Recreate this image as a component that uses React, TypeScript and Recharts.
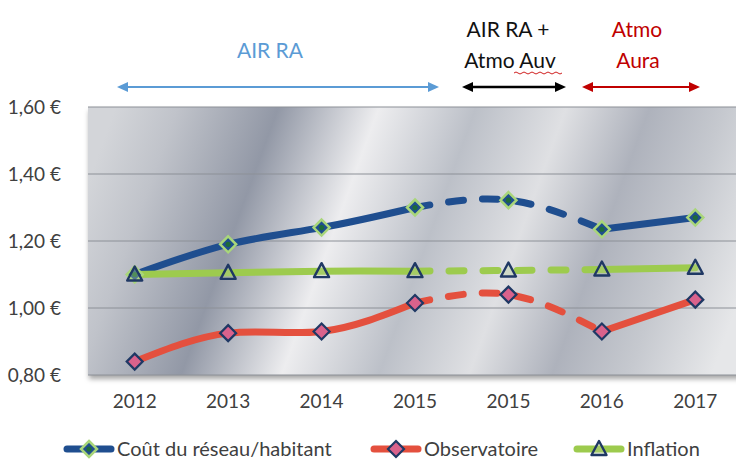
import { CartesianGrid, Line, LineChart, XAxis, YAxis } from 'recharts'

const years = ['2012', '2013', '2014', '2015', '2015', '2016', '2017']
const cout = [1.1, 1.19, 1.24, 1.3, 1.322, 1.235, 1.27]
const observatoire = [0.84, 0.925, 0.93, 1.015, 1.04, 0.93, 1.025]
const inflation = [1.1, 1.105, 1.11, 1.11, 1.112, 1.115, 1.12]
const yTicks = [0.8, 1.0, 1.2, 1.4, 1.6]
// the points joined by a dashed line (the merger period)
const dashStart = 3
const dashEnd = 5

const BLUE = '#1f4e8f'
const RED = '#e4503e'
const GREEN = '#9dcb4e'
const NAVY = '#1f3864'
const FONT = 'Lato, "Open Sans", sans-serif'

const solid = (v: number[], i: number) => (i > dashStart && i < dashEnd ? null : v[i])
const dashed = (v: number[], i: number) => (i >= dashStart && i <= dashEnd ? v[i] : null)

const rows = years.map((year, i) => ({
  year,
  cout: cout[i],
  coutSolid: solid(cout, i),
  coutDash: dashed(cout, i),
  obs: observatoire[i],
  obsSolid: solid(observatoire, i),
  obsDash: dashed(observatoire, i),
  infl: inflation[i],
  inflSolid: solid(inflation, i),
  inflDash: dashed(inflation, i),
}))

const euro = (v: number) => `${v.toFixed(2).replace('.', ',')} €`

function CoutMark({ cx, cy }: { cx: number; cy: number }) {
  return (
    <g>
      <path d={`M${cx},${cy - 8}L${cx + 8},${cy}L${cx},${cy + 8}L${cx - 8},${cy}Z`} fill={BLUE} stroke="#a9d67a" strokeWidth={2.5} />
      <circle cx={cx} cy={cy} r={2.6} fill="#1d6b3a" />
    </g>
  )
}

function ObsMark({ cx, cy }: { cx: number; cy: number }) {
  return <path d={`M${cx},${cy - 8}L${cx + 8},${cy}L${cx},${cy + 8}L${cx - 8},${cy}Z`} fill="#d9628c" stroke={NAVY} strokeWidth={2.2} />
}

function InflMark({ cx, cy }: { cx: number; cy: number }) {
  return (
    <path
      d={`M${cx},${cy - 8}L${cx + 7.5},${cy + 6}L${cx - 7.5},${cy + 6}Z`}
      fill="rgba(180,205,150,0.35)"
      stroke={NAVY}
      strokeWidth={2.4}
      strokeLinejoin="round"
    />
  )
}

const marker = (Comp: typeof CoutMark) => (p: any) =>
  p.cx == null || p.cy == null ? <g key={`m-${p.index}`} /> : <Comp key={`m-${p.dataKey}-${p.index}`} cx={p.cx} cy={p.cy} />

const lineBase = {
  type: 'natural' as const,
  strokeWidth: 7,
  strokeLinecap: 'round' as const,
  dot: false,
  activeDot: false,
  isAnimationActive: false,
  connectNulls: false,
}

const legendItems = [
  { label: 'Coût du réseau/habitant', color: BLUE, mark: CoutMark, x: 63 },
  { label: 'Observatoire', color: RED, mark: ObsMark, x: 370 },
  { label: 'Inflation', color: GREEN, mark: InflMark, x: 573 },
]

function Arrow({ x1, x2, y, color, w }: { x1: number; x2: number; y: number; color: string; w: number }) {
  return (
    <g>
      <line x1={x1 + 8} x2={x2 - 8} y1={y} y2={y} stroke={color} strokeWidth={w} />
      <path d={`M${x1},${y}L${x1 + 11},${y - 5}L${x1 + 11},${y + 5}Z`} fill={color} />
      <path d={`M${x2},${y}L${x2 - 11},${y - 5}L${x2 - 11},${y + 5}Z`} fill={color} />
    </g>
  )
}

export default function App() {
  return (
    <div style={{ position: 'relative', width: 736, height: 463, overflow: 'hidden', background: '#fff' }}>
      <style>{'body{margin:0}'}</style>
      <div
        style={{
          position: 'absolute',
          left: 88,
          top: 107,
          width: 660,
          height: 268,
          boxShadow: '1px 4px 5px rgba(0,0,0,0.35)',
        }}
      />
      <div style={{ position: 'absolute', left: 0, top: 0 }}>
        <LineChart width={744} height={463} data={rows} margin={{ top: 107, right: 2, bottom: 0, left: 0 }}>
          <defs>
            <linearGradient id="metal" gradientUnits="userSpaceOnUse" x1={88} y1={240} x2={740} y2={240} gradientTransform="rotate(20 414 240)">
              <stop offset="0" stopColor="#d3d5d9" />
              <stop offset="0.09" stopColor="#c0c3ca" />
              <stop offset="0.235" stopColor="#9298a6" />
              <stop offset="0.38" stopColor="#ededef" />
              <stop offset="0.52" stopColor="#bcc0c8" />
              <stop offset="0.65" stopColor="#dfe0e3" />
              <stop offset="0.77" stopColor="#aeb2bc" />
              <stop offset="0.88" stopColor="#c6c9cf" />
              <stop offset="1" stopColor="#e6e7e9" />
            </linearGradient>
          </defs>
          <CartesianGrid vertical={false} fill="url(#metal)" fillOpacity={1} stroke="#8c9097" strokeWidth={1} />
          <XAxis
            dataKey="year"
            allowDuplicatedCategory
            axisLine={false}
            tickLine={false}
            tickMargin={14}
            height={88}
            padding={{ left: 46.7, right: 46.7 }}
            tick={{ fill: '#404040', fontSize: 19, fontFamily: FONT }}
          />
          <YAxis
            domain={[0.8, 1.6]}
            ticks={yTicks}
            tickFormatter={euro}
            axisLine={false}
            tickLine={false}
            width={88}
            tickMargin={21}
            tick={{ fill: '#404040', fontSize: 19, fontFamily: FONT }}
          />
          <Line {...lineBase} dataKey="coutSolid" stroke={BLUE} />
          <Line {...lineBase} dataKey="coutDash" stroke={BLUE} strokeDasharray="15 19" />
          <Line {...lineBase} dataKey="obsSolid" stroke={RED} />
          <Line {...lineBase} dataKey="obsDash" stroke={RED} strokeDasharray="15 19" />
          <Line {...lineBase} dataKey="inflSolid" stroke={GREEN} />
          <Line {...lineBase} dataKey="inflDash" stroke={GREEN} strokeDasharray="15 19" />
          <Line {...lineBase} dataKey="cout" stroke="none" dot={marker(CoutMark)} />
          <Line {...lineBase} dataKey="obs" stroke="none" dot={marker(ObsMark)} />
          <Line {...lineBase} dataKey="infl" stroke="none" dot={marker(InflMark)} />
        </LineChart>
      </div>
      <svg width={736} height={463} style={{ position: 'absolute', left: 0, top: 0, pointerEvents: 'none' }} fontFamily={FONT}>
        <text x={270} y={58} textAnchor="middle" fontSize={21} fill="#5b9bd5">AIR RA</text>
        <text x={508} y={37} textAnchor="middle" fontSize={21} fill="#111">AIR RA +</text>
        <text x={510} y={68} textAnchor="middle" fontSize={21} fill="#111">Atmo Auv</text>
        <path d="M514,73 q2,-2 4,0 t4,0 t4,0 t4,0 t4,0 t4,0 t4,0 t4,0 t4,0 t4,0 t4,0 t4,0" fill="none" stroke="#d02020" strokeWidth={1} />
        <text x={637} y={37} textAnchor="middle" fontSize={21} fill="#c00000">Atmo</text>
        <text x={638} y={68} textAnchor="middle" fontSize={21} fill="#c00000">Aura</text>
        <Arrow x1={117} x2={439} y={87} color="#5b9bd5" w={2} />
        <Arrow x1={462} x2={566} y={87} color="#000" w={2.5} />
        <Arrow x1={582} x2={700} y={87} color="#c00000" w={2} />
        {legendItems.map((it) => {
          const Mark = it.mark
          return (
            <g key={it.label}>
              <line x1={it.x + 4} x2={it.x + 48} y1={449} y2={449} stroke={it.color} strokeWidth={7} strokeLinecap="round" />
              <Mark cx={it.x + 26} cy={449} />
              <text x={it.x + 54} y={456} fontSize={20} fill="#404040">{it.label}</text>
            </g>
          )
        })}
      </svg>
    </div>
  )
}
